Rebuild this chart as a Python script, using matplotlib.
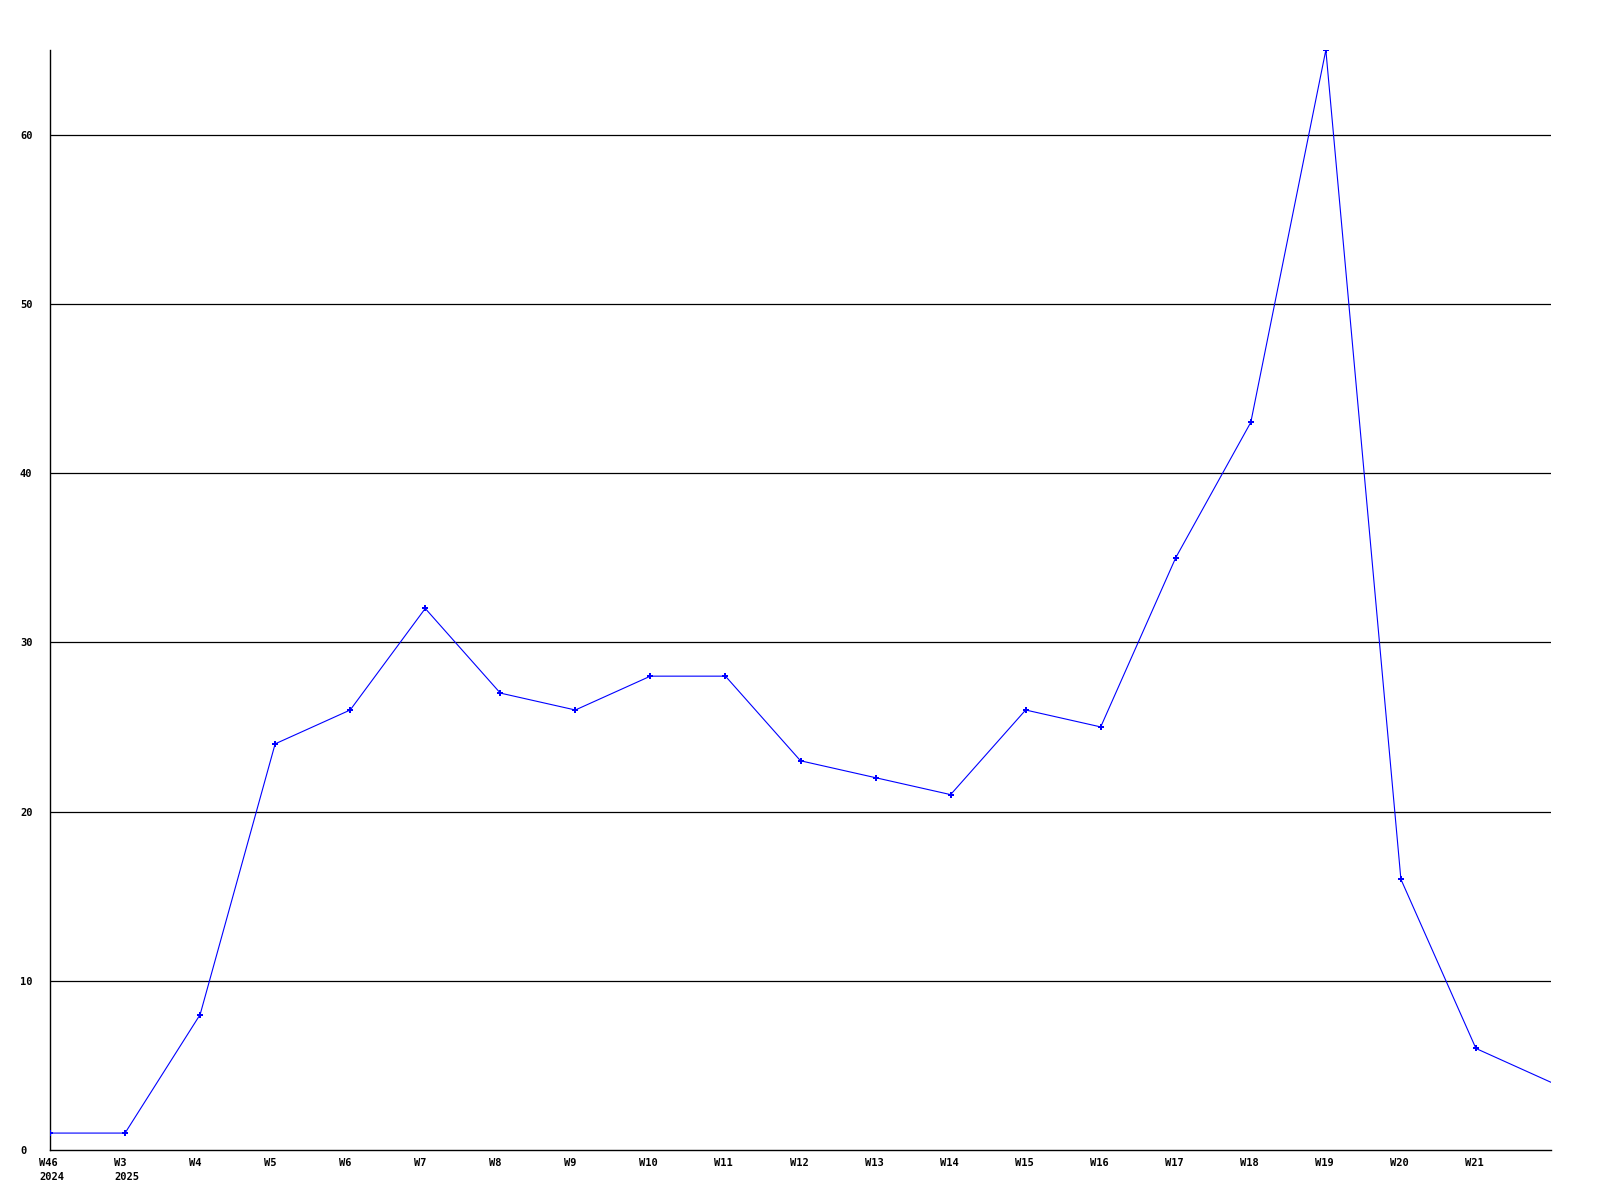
import matplotlib
matplotlib.use("Agg")
import matplotlib.pyplot as plt
import matplotlib.transforms as mtransforms

weeks = ["W46\n2024", "W3\n2025", "W4", "W5", "W6", "W7", "W8", "W9", "W10", "W11",
         "W12", "W13", "W14", "W15", "W16", "W17", "W18", "W19", "W20", "W21", ""]
counts = [1, 1, 8, 24, 26, 32, 27, 26, 28, 28, 23, 22, 21, 26, 25, 35, 43, 65, 16, 6, 4]
yticks = [0, 10, 20, 30, 40, 50, 60]

plt.rcParams['font.family'] = ['DejaVu Sans Mono']

fig = plt.figure(figsize=(16, 12), dpi=100)
ax = fig.add_axes([50 / 1600, 50 / 1200, (1551 - 50) / 1600, (1150 - 50) / 1200])

x = list(range(len(counts)))
for t in yticks[1:]:
    ax.axhline(t, color="black", linewidth=0.9, zorder=1)

ax.plot(x[:-1], counts[:-1], color="#0000ff", linewidth=0.8, marker="P",
        markersize=4, markeredgewidth=0, zorder=3)
ax.plot(x[-2:], counts[-2:], color="#0000ff", linewidth=0.8, zorder=3)

ax.set_xlim(0, len(counts) - 1)
ax.set_ylim(0, 65)

# y labels are left aligned about 30 px left of the axis
ax.set_yticks(yticks)
ax.set_yticklabels([str(t) for t in yticks], fontsize=7.5, fontweight="bold", ha="left")
ax.tick_params(axis="y", length=0, pad=21.6)

ax.set_xticks(x[:-1])
ax.set_xticklabels(weeks[:-1], fontsize=7.5, fontweight="bold", ha="left",
                   linespacing=1.5, va="top")
ax.tick_params(axis="x", length=0, pad=6)
offset = mtransforms.ScaledTranslation(-11 / 100, 0, fig.dpi_scale_trans)
for lbl in ax.get_xticklabels():
    lbl.set_transform(lbl.get_transform() + offset)

for s in ["top", "right"]:
    ax.spines[s].set_visible(False)
ax.spines["left"].set_linewidth(1)
ax.spines["bottom"].set_linewidth(1)

fig.savefig("out.png", dpi=100)
